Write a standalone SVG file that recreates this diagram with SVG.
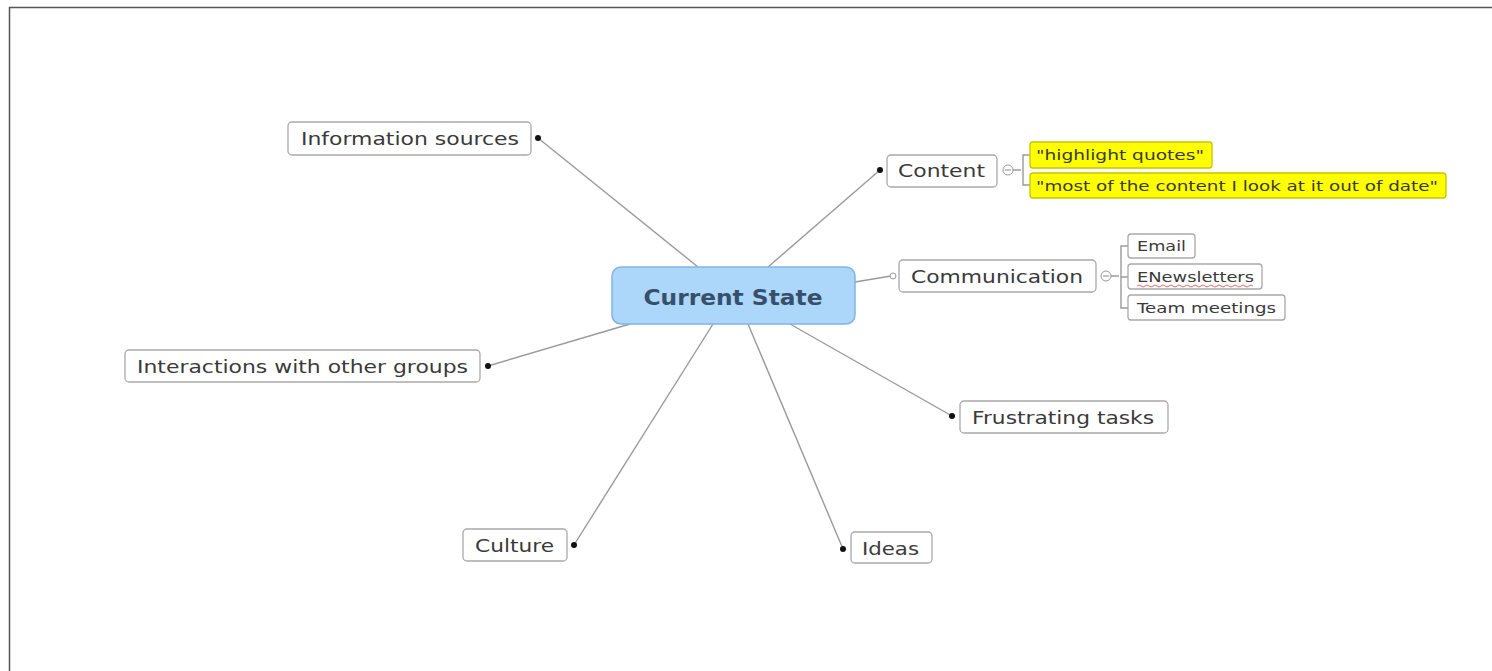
<svg xmlns="http://www.w3.org/2000/svg" width="1492" height="671" viewBox="0 0 1492 671">
<defs>
<style>
.node{fill:#fff;stroke:#a9a9a9;stroke-width:1.3}
.t{font-family:"DejaVu Sans",sans-serif;font-size:17px;fill:#3a3a3a}
.s{font-family:"DejaVu Sans",sans-serif;font-size:14px;fill:#3a3a3a}
.hl{fill:#ffff00;stroke:#c9c200;stroke-width:1.3}
.conn line,.conn path{stroke:#9a9a9a;stroke-width:1.4;fill:none}
.dot{fill:#111}
.tog{fill:#fff;stroke:#999;stroke-width:1}
</style>
</defs>
<rect width="1492" height="671" fill="#fff"/>
<path d="M9.5 671 V7.5 H1492" fill="none" stroke="#555" stroke-width="1.5"/>
<g id="connectors" class="conn">
<line x1="538" y1="138" x2="698" y2="267"/>
<line x1="880" y1="170" x2="768" y2="267"/>
<line x1="488" y1="366" x2="630" y2="324"/>
<line x1="574" y1="545" x2="713" y2="324"/>
<line x1="843" y1="549" x2="748" y2="324"/>
<line x1="952" y1="416" x2="790" y2="324"/>
<line x1="855" y1="282" x2="891" y2="276"/>
<path d="M1013 170 H1021 M1030 155 H1023 V185 H1030"/>
<path d="M1111 276 H1119 M1128 246 H1121 V308 H1128 M1121 277 H1128"/>
</g>
<g id="current-state">
<rect x="612" y="267" width="243" height="57" rx="9" fill="#acd6fa" stroke="#82b4e0" stroke-width="1.5"/>
<text x="733" y="305" text-anchor="middle" font-family="DejaVu Sans,sans-serif" font-size="21" font-weight="bold" fill="#36506b" textLength="179" lengthAdjust="spacingAndGlyphs">Current State</text>
</g>
<g id="information-sources">
<rect class="node" x="288" y="122" width="243" height="33" rx="4"/>
<text class="t" x="301" y="145" textLength="218" lengthAdjust="spacingAndGlyphs">Information sources</text>
<circle class="dot" cx="538" cy="138" r="3"/>
</g>
<g id="content">
<rect class="node" x="887" y="155" width="110" height="32" rx="4"/>
<text class="t" x="898" y="177" textLength="87" lengthAdjust="spacingAndGlyphs">Content</text>
<circle class="dot" cx="880" cy="170" r="3"/>
<circle class="tog" cx="1008" cy="170" r="5"/>
<line x1="1005" y1="170" x2="1011" y2="170" stroke="#888" stroke-width="1"/>
</g>
<g id="highlight-quotes">
<rect class="hl" x="1030" y="142" width="182" height="26" rx="3"/>
<text class="s" x="1036" y="160" textLength="168" lengthAdjust="spacingAndGlyphs">"highlight quotes"</text>
</g>
<g id="out-of-date">
<rect class="hl" x="1030" y="173" width="416" height="25" rx="3"/>
<text class="s" x="1036" y="191" textLength="402" lengthAdjust="spacingAndGlyphs">"most of the content I look at it out of date"</text>
</g>
<g id="communication">
<rect class="node" x="899" y="260" width="197" height="32" rx="4"/>
<text class="t" x="911" y="283" textLength="172" lengthAdjust="spacingAndGlyphs">Communication</text>
<circle cx="893" cy="276" r="3" fill="#fff" stroke="#999" stroke-width="1"/>
<circle class="tog" cx="1106" cy="276" r="5"/>
<line x1="1103" y1="276" x2="1109" y2="276" stroke="#888" stroke-width="1"/>
</g>
<g id="email">
<rect class="node" x="1128" y="234" width="67" height="24" rx="3"/>
<text class="s" x="1137" y="251" textLength="49" lengthAdjust="spacingAndGlyphs">Email</text>
</g>
<g id="enewsletters">
<rect class="node" x="1128" y="264" width="134" height="25" rx="3"/>
<text class="s" x="1137" y="282" textLength="117" lengthAdjust="spacingAndGlyphs">ENewsletters</text>
<path d="M1137 286 q2 -2 4 0 t4 0 t4 0 t4 0 t4 0 t4 0 t4 0 t4 0 t4 0 t4 0 t4 0 t4 0 t4 0 t4 0 t4 0 t4 0 t4 0 t4 0 t4 0 t4 0 t4 0 t4 0 t4 0 t4 0 t4 0 t4 0 t4 0 t4 0 t4 0" fill="none" stroke="#e06a6a" stroke-width="1"/>
</g>
<g id="team-meetings">
<rect class="node" x="1128" y="295" width="157" height="25" rx="3"/>
<text class="s" x="1137" y="313" textLength="139" lengthAdjust="spacingAndGlyphs">Team meetings</text>
</g>
<g id="interactions">
<rect class="node" x="125" y="350" width="355" height="32" rx="4"/>
<text class="t" x="137" y="373" textLength="331" lengthAdjust="spacingAndGlyphs">Interactions with other groups</text>
<circle class="dot" cx="488" cy="366" r="3"/>
</g>
<g id="frustrating-tasks">
<rect class="node" x="960" y="401" width="208" height="32" rx="4"/>
<text class="t" x="972" y="424" textLength="182" lengthAdjust="spacingAndGlyphs">Frustrating tasks</text>
<circle class="dot" cx="952" cy="416" r="3"/>
</g>
<g id="culture">
<rect class="node" x="463" y="529" width="104" height="32" rx="4"/>
<text class="t" x="475" y="552" textLength="79" lengthAdjust="spacingAndGlyphs">Culture</text>
<circle class="dot" cx="574" cy="545" r="3"/>
</g>
<g id="ideas">
<rect class="node" x="851" y="532" width="81" height="31" rx="4"/>
<text class="t" x="862" y="555" textLength="57" lengthAdjust="spacingAndGlyphs">Ideas</text>
<circle class="dot" cx="843" cy="549" r="3"/>
</g>
</svg>
